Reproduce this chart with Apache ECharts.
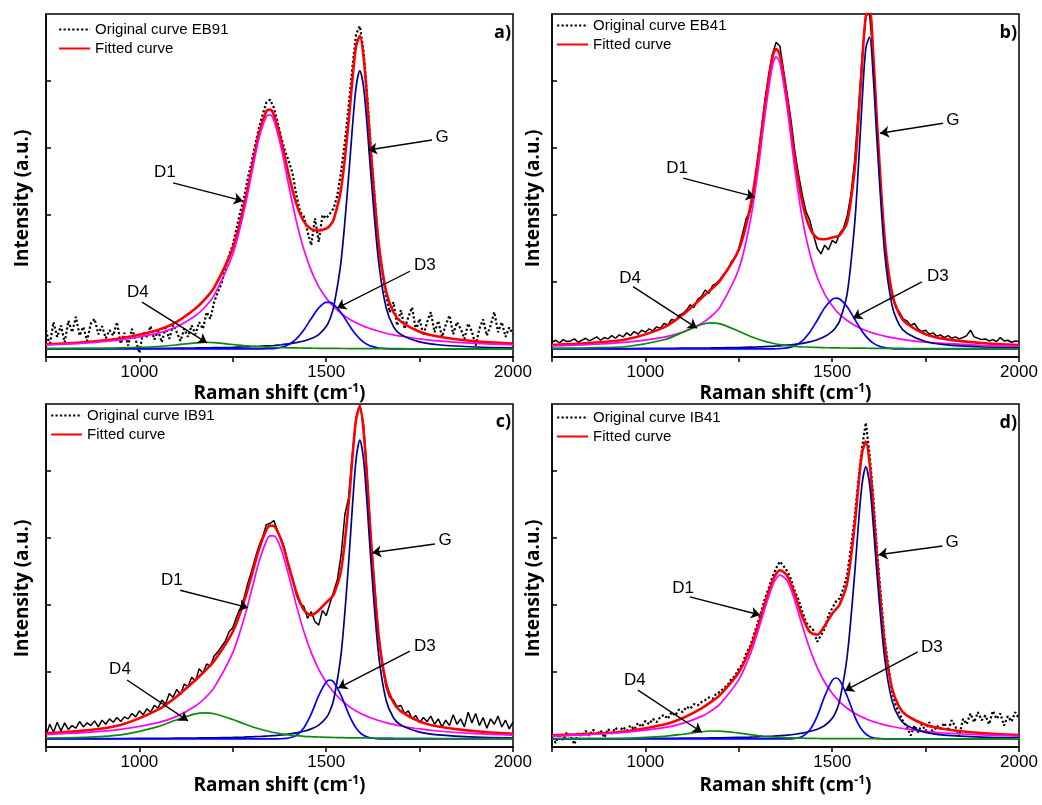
<!DOCTYPE html>
<html><head><meta charset="utf-8">
<script src="https://cdn.jsdelivr.net/npm/echarts@6/dist/echarts.min.js"></script>
<style>html,body{margin:0;padding:0;background:#fff}#c{width:1042px;height:805px}</style>
</head><body><div id="c"></div>
<script>
// ---------------- DATA ----------------
const panelIds = ['EB91', 'EB41', 'IB91', 'IB41'];
const panelLetters = ['a)', 'b)', 'c)', 'd)'];
const xLabelValues = [1000, 1500, 2000];
const yTickValues = [1, 2, 3, 4];
const noteLabels = ['D1', 'G', 'D3', 'D4'];

// wavenumber grid of the fitted curves / components
const XS = [750, 850, 950, 1050, 1100, 1150, 1175, 1200, 1250, 1280, 1300, 1320, 1340, 1350, 1360, 1380, 1400, 1420, 1440, 1460, 1480, 1500, 1510, 1520, 1540, 1560, 1570, 1580, 1590, 1600, 1610, 1620, 1640, 1660, 1680, 1700, 1750, 1800, 1900, 2000];
// wavenumber grid of the measured spectra
const XO = [750,760,770,780,790,800,810,820,830,840,
850,860,870,880,890,900,910,920,930,940,
950,960,970,980,990,1000,1010,1020,1030,1040,
1050,1060,1070,1080,1090,1100,1110,1120,1130,1140,
1150,1160,1170,1180,1190,1200,1210,1220,1230,1240,
1250,1260,1270,1280,1290,1300,1310,1320,1330,1340,
1350,1360,1370,1380,1390,1400,1410,1420,1430,1440,
1450,1460,1470,1480,1490,1500,1510,1520,1530,1540,
1550,1560,1570,1580,1590,1600,1610,1620,1630,1640,
1650,1660,1670,1680,1690,1700,1710,1720,1730,1740,
1750,1760,1770,1780,1790,1800,1810,1820,1830,1840,
1850,1860,1870,1880,1890,1900,1910,1920,1930,1940,
1950,1960,1970,1980,1990,2000];

// ---- panel a) EB91 ----
const aOrig = [.28,.05,.40,.18,.35,.10,.42,.25,.48,.20,
.33,.12,.38,.45,.22,.34,.16,.28,.20,.40,
.08,.24,.05,.30,.14,-.06,.26,.18,.34,.14,
.27,.10,.32,.15,.36,.25,.12,.30,.18,.35,
.22,.40,.30,.55,.45,.70,.85,.98,1.20,1.40,
1.55,1.80,2.05,2.25,2.55,2.78,3.05,3.30,3.50,3.68,
3.72,3.60,3.38,3.15,2.95,2.80,2.62,2.30,2.05,1.98,
1.75,1.55,1.95,1.60,2.00,1.95,2.02,2.10,2.30,2.65,
3.10,3.62,4.20,4.70,4.82,4.45,3.75,2.95,2.25,1.55,
1.15,.80,.55,.70,.35,.58,.30,.48,.62,.28,
.45,.20,.40,.55,.25,.42,.18,.36,.50,.22,
.40,.30,.15,.38,.26,.05,.30,.44,.20,.35,
.55,.25,.40,.18,.32,.22];
const aFit = [0.071, 0.101, 0.160, 0.284, 0.405, 0.603, 0.740, 0.915, 1.508, 2.136, 2.676, 3.214, 3.549, 3.573, 3.492, 3.099, 2.592, 2.169, 1.904, 1.790, 1.768, 1.799, 1.842, 1.932, 2.396, 3.394, 4.010, 4.517, 4.671, 4.357, 3.692, 2.917, 1.604, 0.870, 0.548, 0.409, 0.258, 0.186, 0.113, 0.079];
const aD1 = [0.062, 0.088, 0.137, 0.237, 0.332, 0.496, 0.623, 0.800, 1.417, 2.057, 2.602, 3.142, 3.473, 3.495, 3.410, 2.991, 2.432, 1.910, 1.488, 1.169, 0.930, 0.76, 0.69, 0.63, 0.53, 0.45, 0.42, 0.39, 0.365, 0.34, 0.32, 0.30, 0.265, 0.235, 0.21, 0.19, 0.15, 0.12, 0.082, 0.06];
const aG = [0.004, 0.005, 0.007, 0.010, 0.012, 0.015, 0.017, 0.019, 0.024, 0.029, 0.033, 0.038, 0.045, 0.048, 0.052, 0.063, 0.076, 0.094, 0.119, 0.156, 0.215, 0.334, 0.447, 0.627, 1.32, 2.57, 3.30, 3.91, 4.15, 3.91, 3.30, 2.57, 1.32, 0.627, 0.334, 0.215, 0.105, 0.063, 0.029, 0.017];
const aD3 = [0,0,0,0,0,0,0,0,0,0,0,0,0.003,0.004,0.006,0.025,0.067,0.150,0.284,0.454,0.613,0.696,0.696,0.667,0.539,0.367,0.284,0.211,0.150,0.102,0.067,0.042,0.014,0.004,0,0,0,0,0,0];
const aD4 = [0.005, 0.008, 0.016, 0.037, 0.061, 0.092, 0.100, 0.096, 0.067, 0.050, 0.041, 0.034, 0.028, 0.026, 0.024, 0.020, 0.017, 0.015, 0.013, 0.011, 0.010, 0.009, 0.0085, 0.008, 0.007, 0.0065, 0.006, 0.006, 0.0057, 0.0054, 0.0051, 0.0049, 0.0045, 0.0042, 0.0038, 0.0036, 0.003, 0.0025, 0.0019, 0.0015];
const aNoteText = [[1068, 2.63], [1810, 3.16], [1764, 1.25], [996, 0.85]];
const aNoteFrom = [[1090, 2.48], [1783, 3.12], [1724, 1.16], [1007, 0.70]];
const aNoteTo = [[1277, 2.21], [1612, 2.97], [1529, 0.61], [1181, 0.09]];

// ---- panel b) EB41 ----
const bOrig = [.10,.13,.09,.14,.11,.12,.15,.10,.13,.16,
.12,.15,.18,.13,.17,.15,.20,.16,.21,.18,
.24,.20,.26,.22,.28,.25,.30,.27,.33,.31,
.38,.36,.44,.42,.50,.53,.58,.66,.62,.74,
.78,.88,.83,.95,.98,1.04,1.12,1.18,1.30,1.36,
1.50,1.72,1.95,2.05,2.30,2.82,3.25,3.72,4.10,4.40,
4.58,4.52,4.15,3.78,3.40,2.95,2.60,2.30,2.05,1.92,
1.70,1.50,1.42,1.55,1.48,1.62,1.58,1.72,1.80,1.98,
2.30,2.80,3.55,4.35,4.98,5.00,4.35,3.30,2.40,1.60,
1.15,.80,.62,.55,.45,.42,.35,.38,.30,.26,
.28,.22,.24,.19,.21,.17,.20,.16,.18,.15,
.17,.20,.28,.18,.16,.14,.15,.12,.14,.11,
.17,.12,.13,.10,.12,.11];
const bFit = [0.060, 0.088, 0.145, 0.323, 0.511, 0.759, 0.886, 1.021, 1.480, 2.104, 2.778, 3.636, 4.354, 4.480, 4.387, 3.700, 2.841, 2.185, 1.808, 1.654, 1.637, 1.664, 1.676, 1.697, 1.892, 2.673, 3.396, 4.261, 4.965, 5.054, 4.387, 3.381, 1.677, 0.839, 0.516, 0.375, 0.220, 0.151, 0.088, 0.059];
const bD1 = [0.046, 0.066, 0.102, 0.177, 0.251, 0.379, 0.481, 0.629, 1.193, 1.887, 2.600, 3.488, 4.227, 4.359, 4.270, 3.577, 2.684, 1.947, 1.425, 1.066, 0.818, 0.644, 0.575, 0.517, 0.424, 0.353, 0.323, 0.298, 0.275, 0.255, 0.236, 0.220, 0.192, 0.169, 0.150, 0.133, 0.103, 0.082, 0.055, 0.039];
const bG = [0.004, 0.005, 0.006, 0.009, 0.011, 0.014, 0.015, 0.017, 0.022, 0.027, 0.030, 0.035, 0.040, 0.044, 0.047, 0.056, 0.068, 0.084, 0.106, 0.137, 0.185, 0.263, 0.325, 0.419, 0.823, 1.860, 2.709, 3.687, 4.488, 4.657, 4.054, 3.096, 1.457, 0.656, 0.357, 0.235, 0.111, 0.064, 0.029, 0.017];
const bD3 = [0,0,0,0,0,0,0,0,0,0,0,0,0.002,0.003,0.005,0.017,0.050,0.122,0.250,0.428,0.615,0.740,0.760,0.746,0.631,0.447,0.352,0.265,0.191,0.132,0.087,0.055,0.019,0.006,0.001,0,0,0,0,0];
const bD4 = [0.010, 0.017, 0.037, 0.137, 0.249, 0.366, 0.390, 0.375, 0.265, 0.190, 0.148, 0.113, 0.085, 0.074, 0.065, 0.050, 0.039, 0.032, 0.027, 0.023, 0.019, 0.017, 0.016, 0.015, 0.014, 0.013, 0.012, 0.011, 0.011, 0.010, 0.010, 0.010, 0.009, 0.008, 0.008, 0.007, 0.006, 0.005, 0.004, 0.003];
const bNoteText = [[1085, 2.70], [1823, 3.42], [1783, 1.09], [959, 1.06]];
const bNoteFrom = [[1101, 2.55], [1797, 3.37], [1740, 1.00], [967, 0.93]];
const bNoteTo = [[1293, 2.27], [1628, 3.22], [1556, 0.46], [1138, 0.31]];

// ---- panel c) IB91 ----
const cOrig = [.05,.22,.10,.25,.12,.24,.14,.20,.16,.26,
.18,.24,.20,.27,.18,.28,.22,.30,.25,.32,
.26,.33,.30,.38,.33,.42,.36,.45,.40,.50,
.46,.58,.52,.68,.62,.74,.66,.82,.78,.92,
.86,1.05,.98,1.12,1.08,1.24,1.30,1.38,1.46,1.60,
1.66,1.82,1.95,2.10,2.32,2.50,2.70,2.88,3.02,3.20,
3.22,3.26,3.10,2.98,2.82,2.55,2.40,2.15,2.02,1.98,
1.80,1.90,1.75,1.70,1.92,1.84,2.02,2.20,2.38,2.75,
3.35,3.60,4.25,4.80,4.98,4.70,3.90,2.95,2.25,1.55,
1.10,.78,.62,.58,.48,.50,.38,.42,.30,.35,
.24,.32,.26,.34,.22,.30,.18,.28,.20,.36,
.22,.30,.18,.40,.24,.38,.20,.32,.16,.30,
.22,.34,.18,.28,.15,.25];
const cFit = [0.084, 0.124, 0.210, 0.437, 0.635, 0.880, 1.014, 1.162, 1.602, 2.049, 2.432, 2.830, 3.123, 3.185, 3.178, 2.961, 2.580, 2.193, 1.927, 1.847, 1.921, 2.036, 2.088, 2.154, 2.523, 3.508, 4.187, 4.769, 4.963, 4.600, 3.840, 2.967, 1.565, 0.841, 0.544, 0.411, 0.261, 0.186, 0.115, 0.078];
const cD1 = [0.066, 0.094, 0.143, 0.244, 0.337, 0.491, 0.608, 0.767, 1.288, 1.794, 2.213, 2.641, 2.958, 3.031, 3.031, 2.822, 2.432, 1.998, 1.607, 1.288, 1.038, 0.845, 0.767, 0.697, 0.582, 0.491, 0.453, 0.419, 0.389, 0.361, 0.337, 0.314, 0.276, 0.244, 0.217, 0.194, 0.150, 0.119, 0.081, 0.058];
const cG = [0.004, 0.005, 0.007, 0.009, 0.011, 0.014, 0.016, 0.018, 0.023, 0.028, 0.032, 0.037, 0.043, 0.046, 0.051, 0.060, 0.073, 0.091, 0.115, 0.151, 0.207, 0.316, 0.418, 0.585, 1.275, 2.626, 3.460, 4.169, 4.46, 4.169, 3.460, 2.626, 1.275, 0.585, 0.316, 0.207, 0.102, 0.060, 0.028, 0.016];
const cD3 = [0,0,0,0,0,0,0,0,0,0,0,0,0,0,0,0.003,0.014,0.055,0.165,0.374,0.647,0.850,0.880,0.850,0.647,0.374,0.257,0.165,0.099,0.055,0.029,0.014,0.002,0,0,0,0,0,0,0];
const cD4 = [0.014, 0.025, 0.060, 0.184, 0.287, 0.375, 0.390, 0.377, 0.291, 0.227, 0.187, 0.152, 0.122, 0.108, 0.096, 0.076, 0.061, 0.049, 0.040, 0.034, 0.029, 0.025, 0.023, 0.022, 0.019, 0.017, 0.017, 0.016, 0.015, 0.015, 0.014, 0.013, 0.012, 0.012, 0.011, 0.010, 0.009, 0.007, 0.006, 0.004];
const cNoteText = [[1087, 2.37], [1818, 2.96], [1764, 1.39], [948, 1.04]];
const cNoteFrom = [[1109, 2.22], [1791, 2.91], [1724, 1.31], [967, 0.88]];
const cNoteTo = [[1291, 1.96], [1623, 2.78], [1532, 0.76], [1130, 0.27]];

// ---- panel d) IB41 ----
const dOrig = [.02,-.06,.08,-.02,.10,.03,-.08,.09,.04,.12,
.05,.14,.06,.13,.02,.15,.08,.17,.10,.18,
.12,.20,.14,.24,.18,.27,.22,.30,.25,.33,
.36,.30,.40,.35,.44,.40,.48,.45,.52,.50,
.55,.58,.62,.60,.68,.70,.76,.80,.90,.94,
1.05,1.12,1.28,1.38,1.55,1.72,1.90,2.10,2.25,2.42,
2.55,2.65,2.58,2.50,2.38,2.20,2.08,1.90,1.74,1.68,
1.62,1.45,1.55,1.65,1.85,1.95,2.05,2.10,2.25,2.45,
2.85,3.30,3.85,4.35,4.72,4.25,3.60,2.80,2.15,1.50,
1.10,.72,.50,.38,.26,.18,.05,.20,.10,.22,
.12,.25,.08,.20,.15,.24,.12,.28,.18,.04,
.30,.22,.38,.25,.40,.28,.35,.22,.42,.30,
.38,.20,.34,.26,.40,.30];
const dFit = [0.053, 0.076, 0.116, 0.215, 0.313, 0.458, 0.550, 0.659, 0.996, 1.345, 1.663, 2.025, 2.353, 2.465, 2.518, 2.431, 2.151, 1.826, 1.599, 1.557, 1.691, 1.869, 1.937, 2.007, 2.329, 3.183, 3.770, 4.271, 4.438, 4.128, 3.471, 2.706, 1.442, 0.761, 0.473, 0.349, 0.213, 0.149, 0.088, 0.060];
const dD1 = [0.046, 0.066, 0.100, 0.168, 0.232, 0.337, 0.416, 0.524, 0.885, 1.254, 1.581, 1.951, 2.283, 2.394, 2.447, 2.356, 2.060, 1.690, 1.346, 1.064, 0.846, 0.681, 0.614, 0.555, 0.459, 0.385, 0.354, 0.326, 0.301, 0.279, 0.259, 0.242, 0.211, 0.186, 0.164, 0.147, 0.113, 0.089, 0.060, 0.043];
const dG = [0.004, 0.005, 0.006, 0.009, 0.011, 0.013, 0.015, 0.017, 0.023, 0.027, 0.031, 0.035, 0.041, 0.045, 0.049, 0.058, 0.070, 0.087, 0.111, 0.145, 0.200, 0.307, 0.408, 0.572, 1.227, 2.453, 3.191, 3.808, 4.06, 3.808, 3.191, 2.453, 1.227, 0.572, 0.307, 0.200, 0.098, 0.058, 0.027, 0.016];
const dD3 = [0,0,0,0,0,0,0,0,0,0,0,0,0,0,0,0,0.008,0.038,0.133,0.341,0.639,0.875,0.910,0.875,0.639,0.341,0.221,0.133,0.074,0.038,0.018,0.008,0.001,0,0,0,0,0,0,0];
const dD4 = [0.003, 0.005, 0.010, 0.038, 0.070, 0.108, 0.119, 0.118, 0.088, 0.064, 0.051, 0.039, 0.029, 0.026, 0.022, 0.017, 0.013, 0.011, 0.009, 0.007, 0.006, 0.006, 0.005, 0.005, 0.004, 0.004, 0.004, 0.004, 0.003, 0.003, 0.003, 0.003, 0.003, 0.003, 0.002, 0.002, 0.002, 0.002, 0.001, 0.001];
const dNoteText = [[1101, 2.25], [1821, 2.94], [1767, 1.37], [972, 0.87]];
const dNoteFrom = [[1119, 2.12], [1795, 2.88], [1729, 1.30], [980, 0.73]];
const dNoteTo = [[1307, 1.85], [1624, 2.75], [1534, 0.72], [1151, 0.10]];

// ---------------- CHART ----------------
const panels = [
  {orig: aOrig, fit: aFit, d1: aD1, g: aG, d3: aD3, d4: aD4, nt: aNoteText, nf: aNoteFrom, nto: aNoteTo},
  {orig: bOrig, fit: bFit, d1: bD1, g: bG, d3: bD3, d4: bD4, nt: bNoteText, nf: bNoteFrom, nto: bNoteTo},
  {orig: cOrig, fit: cFit, d1: cD1, g: cG, d3: cD3, d4: cD4, nt: cNoteText, nf: cNoteFrom, nto: cNoteTo},
  {orig: dOrig, fit: dFit, d1: dD1, g: dG, d3: dD3, d4: dD4, nt: dNoteText, nf: dNoteFrom, nto: dNoteTo}
];

const layout = [
  {left: 46, top: 14, legendLeft: 58, legendTop: 22, letterX: 511, letterY: 33, yGap: 14, xGap: 26, dotted: true},
  {left: 552, top: 14, legendLeft: 556, legendTop: 18, letterX: 1017, letterY: 33, yGap: 9, xGap: 26, dotted: false},
  {left: 46, top: 404, legendLeft: 50, legendTop: 408, letterX: 511, letterY: 422, yGap: 14, xGap: 28, dotted: false},
  {left: 552, top: 404, legendLeft: 556, legendTop: 410, letterX: 1017, letterY: 423, yGap: 9, xGap: 28, dotted: true}
];

const SANS = '"Liberation Sans", Arial, sans-serif';
const BOLD = '"Open Sans", "Liberation Sans", sans-serif';

const grid = [], xAxis = [], yAxis = [], series = [], legend = [], graphic = [];

panels.forEach((P, p) => {
  const L = layout[p];
  grid.push({left: L.left, top: L.top, width: 467, height: 343, show: true, borderColor: '#000', borderWidth: 1.5, backgroundColor: 'transparent'});
  xAxis.push({
    type: 'value', gridIndex: p, min: 750, max: 2000, interval: 250,
    axisLine: {show: true, onZero: false, lineStyle: {color: '#000', width: 1.5}},
    axisTick: {show: true, inside: false, length: 5, lineStyle: {color: '#000', width: 1.5}},
    axisLabel: {show: true, fontSize: 17, fontFamily: SANS, color: '#000', margin: 7,
      showMinLabel: true, showMaxLabel: true, hideOverlap: false,
      formatter: v => xLabelValues.indexOf(v) >= 0 ? String(v) : ''},
    splitLine: {show: false},
    name: '{n|Raman shift (cm}{s|-1}{n|)}', nameLocation: 'middle', nameGap: L.xGap,
    nameTextStyle: {rich: {
      n: {fontFamily: BOLD, fontWeight: 'bold', fontSize: 19, color: '#000', lineHeight: 22},
      s: {fontFamily: BOLD, fontWeight: 'bold', fontSize: 12, color: '#000', verticalAlign: 'top', lineHeight: 22, padding: [0, 0, 8, 0]}
    }}
  });
  yAxis.push({
    type: 'value', gridIndex: p, min: -0.12, max: 5,
    axisLine: {show: true, onZero: false, lineStyle: {color: '#000', width: 1.5}},
    axisTick: {show: true, inside: true, length: 5, customValues: yTickValues, lineStyle: {color: '#000', width: 1.5}},
    axisLabel: {show: false},
    splitLine: {show: false},
    name: 'Intensity (a.u.)', nameLocation: 'middle', nameGap: L.yGap, nameRotate: 90,
    nameTextStyle: {fontFamily: BOLD, fontWeight: 'bold', fontSize: 19, color: '#000', padding: [0, 26, 0, 0]}
  });

  const origName = 'Original curve ' + panelIds[p];
  series.push({
    name: origName, type: 'line', xAxisIndex: p, yAxisIndex: p, z: 1, silent: true,
    symbol: 'none', animation: false,
    data: XO.map((x, i) => [x, P.orig[i]]),
    itemStyle: {color: '#000'},
    lineStyle: {color: '#000', width: L.dotted ? 2.2 : 1.5, type: L.dotted ? 'dotted' : 'solid'}
  });
  series.push({
    name: 'Fitted curve', type: 'line', xAxisIndex: p, yAxisIndex: p, z: 2, silent: true,
    symbol: 'none', smooth: 0.3, animation: false,
    data: XS.map((x, i) => [x, P.fit[i]]),
    itemStyle: {color: '#ff0000'},
    lineStyle: {color: '#ff0000', width: 2.6}
  });
  const comps = [['D1', P.d1, '#ff00ff'], ['G', P.g, '#00008b'], ['D3', P.d3, '#0000ff'], ['D4', P.d4, '#0a8a0a']];
  comps.forEach(([nm, arr, col], k) => {
    const s = {
      name: nm + ' ' + panelIds[p], type: 'line', xAxisIndex: p, yAxisIndex: p, z: 3, silent: true,
      symbol: 'none', smooth: 0.3, animation: false,
      data: XS.map((x, i) => [x, arr[i]]),
      itemStyle: {color: col},
      lineStyle: {color: col, width: 1.7}
    };
    if (k === 3) {
      s.markLine = {
        silent: true, animation: false, symbol: ['none', 'arrow'], symbolSize: 9,
        lineStyle: {color: '#000', width: 1.4, type: 'solid'},
        label: {show: false},
        emphasis: {disabled: true},
        data: P.nf.map((f, j) => [{coord: f}, {coord: P.nto[j]}])
      };
      s.markPoint = {
        silent: true, animation: false, symbol: 'circle', symbolSize: 1,
        itemStyle: {color: 'rgba(0,0,0,0)'},
        label: {show: true, position: 'inside', formatter: '{b}', color: '#000', fontSize: 17, fontFamily: SANS},
        data: P.nt.map((t, j) => ({name: noteLabels[j], coord: t}))
      };
    }
    series.push(s);
  });

  legend.push({
    show: true, orient: 'vertical', left: L.legendLeft, top: L.legendTop,
    itemWidth: 31, itemHeight: 14, itemGap: 4, selectedMode: false, padding: 0,
    itemStyle: {opacity: 0},
    textStyle: {fontSize: 15, fontFamily: SANS, color: '#000'},
    data: [
      {name: origName, itemStyle: {opacity: 0}, lineStyle: {type: 'dotted', width: 2.2, color: '#000'}},
      {name: 'Fitted curve', itemStyle: {opacity: 0}}
    ]
  });
  graphic.push({
    type: 'text', x: L.letterX, y: L.letterY, silent: true,
    style: {text: panelLetters[p], fill: '#000', font: 'bold 18px ' + BOLD, align: 'right', verticalAlign: 'middle'}
  });
});

const chart = echarts.init(document.getElementById('c'), null, {renderer: 'canvas'});
chart.setOption({
  animation: false,
  backgroundColor: '#fff',
  grid, xAxis, yAxis, series, legend, graphic
});
</script></body></html>
